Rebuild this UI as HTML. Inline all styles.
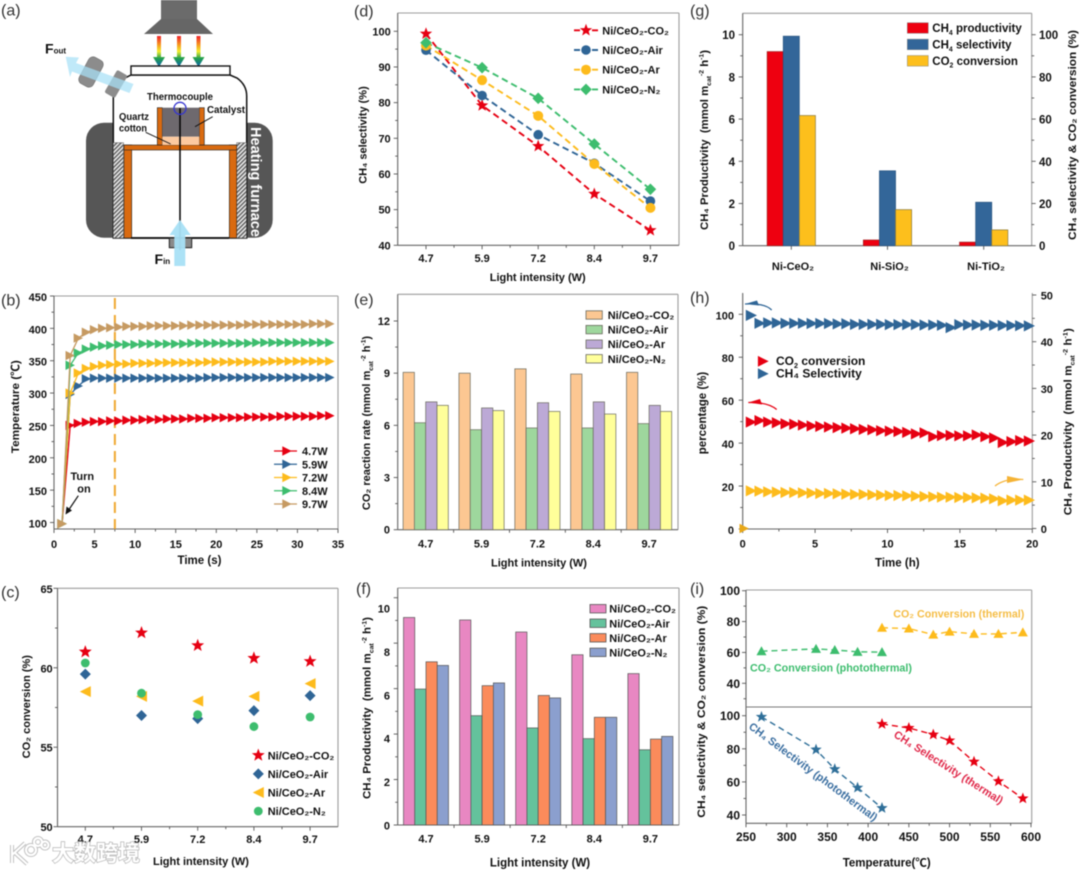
<!DOCTYPE html>
<html lang="en">
<head>
<meta charset="utf-8">
<title>Photothermal CO2 methanation figure</title>
<style>
html,body{margin:0;padding:0;background:#fff;}
svg{display:block;filter:blur(0.4px);}
text{font-family:"Liberation Sans","Noto Sans CJK SC",sans-serif;white-space:pre;}
</style>
</head>
<body>
<svg id="figure" xmlns="http://www.w3.org/2000/svg" width="1080" height="871" viewBox="0 0 1080 871">
<defs>
<pattern id="hatch" width="3" height="3" patternUnits="userSpaceOnUse" patternTransform="rotate(45)">
<rect width="3" height="3" fill="#e8e8e8"/><rect width="1.3" height="3" fill="#555"/>
</pattern>
<linearGradient id="rainbow" x1="0" y1="36" x2="0" y2="67" gradientUnits="userSpaceOnUse">
<stop offset="0" stop-color="#f0202a"/><stop offset=".3" stop-color="#f6a020"/><stop offset=".5" stop-color="#f2ee30"/><stop offset=".72" stop-color="#20a050"/><stop offset="1" stop-color="#1060b0"/>
</linearGradient>
</defs>
<rect width="1080" height="871" fill="#fff"/>

<g>
<rect x="161" y="0" width="36" height="19" fill="#6b6b6b"/>
<polygon points="161,19 197,19 213,34 144,34" fill="#666"/>
<g fill="url(#rainbow)">
<polygon points="157,36 161,36 161,57 165,57 159,67 153,57 157,57"/>
<polygon points="177,36 181,36 181,57 185,57 179,67 173,57 177,57"/>
<polygon points="196.500,36 200.500,36 200.500,57 204.500,57 198.500,67 192.500,57 196.500,57"/>
</g>
<rect x="86" y="122.700" width="186.700" height="115" rx="18" fill="#565656"/>
<path d="M113.300 238V96Q113.300 85 125 78L131 75H230L237 78Q246.700 85 246.700 96V238Z" fill="#fff" stroke="#111" stroke-width="1.5"/>
<rect x="131" y="66" width="99" height="9" fill="#fff" stroke="#111" stroke-width="1.4"/>
<rect x="113.300" y="142.700" width="10.200" height="95.300" fill="url(#hatch)" stroke="#555" stroke-width=".5"/>
<rect x="236.700" y="142.700" width="9.800" height="95.300" fill="url(#hatch)" stroke="#555" stroke-width=".5"/>
<g fill="#d96a10" stroke="#222" stroke-width=".6">
<rect x="124" y="145" width="7.700" height="93"/>
<rect x="229.300" y="145" width="7.400" height="93"/>
<rect x="124" y="145" width="112.700" height="5"/>
<rect x="157.300" y="107.700" width="5" height="37.300"/>
<rect x="199.300" y="107.700" width="5" height="37.300"/>
</g>
<rect x="162.300" y="107.700" width="37" height="29" fill="#6e696e"/>
<rect x="162.300" y="136.700" width="37" height="8.300" fill="#fcc9a0"/>
<line x1="131" y1="238" x2="229" y2="238" stroke="#111" stroke-width="1.8"/>
<rect x="169.300" y="238" width="22.400" height="9.700" fill="#8a8a8a" stroke="#222" stroke-width="1"/>
<line x1="180" y1="108" x2="180" y2="250" stroke="#000" stroke-width="1.5"/>
<circle cx="180" cy="108.300" r="6" fill="none" stroke="#3535d0" stroke-width="1.3"/>
<polygon points="174.300,266 185.300,266 185.300,235 190.700,235 180,220 169.500,235 174.300,235" fill="#a8e0f6" fill-opacity=".95"/>
<rect x="-13" y="-6" width="26" height="12" rx="2" transform="translate(116 84) rotate(-60)" fill="#8c8c8c"/>
<rect x="-8" y="-15" width="16" height="30" rx="5" transform="translate(91 72) rotate(28)" fill="#8c8c8c" stroke="#666" stroke-width=".5"/>
<polygon points="65.700,56.700 79,57.500 76,63 133.500,84 129.500,93 72,71.500 70,77" fill="#a8e0f6" fill-opacity=".72"/>
<line x1="212.700" y1="116.700" x2="195" y2="126.700" stroke="#111" stroke-width=".9"/>
<line x1="145.700" y1="132.300" x2="170.700" y2="144" stroke="#111" stroke-width=".9"/>
<g fill="#111" font-size="10.300" font-weight="bold">
<text x="147" y="100" textLength="66" lengthAdjust="spacingAndGlyphs">Thermocouple</text>
<text x="207" y="113" textLength="38" lengthAdjust="spacingAndGlyphs">Catalyst</text>
<text x="119" y="120" textLength="30" lengthAdjust="spacingAndGlyphs">Quartz</text>
<text x="119" y="131.700" textLength="28" lengthAdjust="spacingAndGlyphs">cotton</text>
</g>
<text x="0" y="0" transform="translate(251 127) rotate(90)" fill="#fff" font-size="15" font-weight="bold" textLength="110" lengthAdjust="spacingAndGlyphs">Heating furnace</text>
<text x="45" y="53.500" fill="#111" font-size="14" font-weight="bold">F<tspan font-size="8" dy="0">out</tspan></text>
<text x="154.500" y="264" fill="#111" font-size="14" font-weight="bold">F<tspan font-size="8">in</tspan></text>
</g>

<g id="charts"></g>

<g>
<g fill="none" stroke="#bdbdbd" stroke-width="4">
<path d="M12 845V863M12 855L25 843M15 853L27 864"/>
<circle cx="31" cy="850" r="5"/><circle cx="38" cy="842" r="4"/><circle cx="45" cy="845" r="3.500"/>
</g>
<g fill="none" stroke="#fff" stroke-width="2.200">
<path d="M12 845V863M12 855L25 843M15 853L27 864"/>
<circle cx="31" cy="850" r="5"/><circle cx="38" cy="842" r="4"/><circle cx="45" cy="845" r="3.500"/>
</g>
<text x="52" y="861" font-size="22" font-weight="bold" fill="#fff" stroke="#b5b5b5" stroke-width="1.400" paint-order="stroke" style="font-family:'Noto Sans CJK SC',sans-serif">大数跨境</text>
</g>
</svg>

<script>
/* Panel (b) */
const timeSeconds = [1,2,3,4,5,6,7,8,9,10,11,12,13,14,15,16,17,18,19,20,21,22,23,24,25,26,27,28,29,30,31,32,33,34];
const temp47 = [98,250,253,255,256,256,257,257,258,258,259,259,259,260,260,260,261,261,261,262,262,262,262,263,263,263,263,264,264,264,264,264,265,265];
const temp59 = [98,298,311,322,323,323,323,323,323,323,323,323,323,323,323,323,323,323,324,324,324,324,324,324,324,324,324,324,324,324,324,324,324,324];
const temp72 = [98,300,331,338,341,343,344,345,345,346,346,346,347,347,347,347,347,347,348,348,348,348,348,348,348,348,349,349,349,349,349,349,349,349];
const temp84 = [98,343,362,368,371,373,374,375,375,375,376,376,376,376,376,376,377,377,377,377,377,377,377,377,378,378,378,378,378,378,378,378,378,378];
const temp97 = [98,358,385,394,398,400,401,402,403,403,403,404,404,404,404,404,405,405,405,405,405,405,405,406,406,406,406,406,406,406,406,407,407,407];
const powerLabels = ['4.7W','5.9W','7.2W','8.4W','9.7W'];
const steadyTime = [7.5];
/* Shared categories */
const intensities = ['4.7','5.9','7.2','8.4','9.7'];
const gasLabels = ['Ni/CeO₂-CO₂','Ni/CeO₂-Air','Ni/CeO₂-Ar','Ni/CeO₂-N₂'];
/* Panel (c) */
const co2ConvCO2 = [61.0,62.2,61.4,60.6,60.4];
const co2ConvAir = [59.6,57.0,56.8,57.3,58.25];
const co2ConvAr = [58.5,58.2,57.9,58.2,59.0];
const co2ConvN2 = [60.3,58.4,57.05,56.3,56.9];
/* Panel (d) */
const ch4SelCO2 = [99.3,79.2,67.8,54.4,44.2];
const ch4SelAir = [94.7,82,71,63,52.4];
const ch4SelAr = [96,86.3,76.3,62.8,50.5];
const ch4SelN2 = [96.8,89.8,81.2,68.4,55.7];
/* Panel (e) */
const co2RateCO2 = [9.05,9.0,9.25,8.95,9.05];
const co2RateAir = [6.15,5.75,5.85,5.85,6.1];
const co2RateAr = [7.35,7.0,7.3,7.35,7.15];
const co2RateN2 = [7.15,6.85,6.8,6.65,6.8];
/* Panel (f) */
const ch4ProdCO2 = [9.13,9.02,8.49,7.49,6.66];
const ch4ProdAir = [5.98,4.81,4.27,3.8,3.31];
const ch4ProdAr = [7.18,6.13,5.7,4.74,3.78];
const ch4ProdN2 = [7.02,6.25,5.59,4.74,3.9];
/* Panel (g) */
const supports = ['Ni-CeO₂','Ni-SiO₂','Ni-TiO₂'];
const supportProductivity = [9.2,0.27,0.17];
const supportSelectivity = [99.3,35.5,20.6];
const supportConversion = [61.7,17.1,7.5];
/* Panel (h) */
const timeHours = [0.6,1.2,1.8,2.4,3.0,3.6,4.2,4.8,5.4,6.0,6.6,7.2,7.8,8.4,9.0,9.6,10.2,10.8,11.4,12.0,12.6,13.2,13.8,14.4,15.0,15.6,16.2,16.8,17.4,18.0,18.6,19.2,19.8];
const stabilitySelectivity = [99.5,95.8,96,96,95.8,95.8,95.8,95.7,95.7,95.7,95.5,95.6,95.3,95.3,95.3,95.3,95.2,95.2,95.2,95.2,95.0,95.0,94.9,93.8,95.2,95.0,95,94.9,94.9,94.8,94.8,94.7,94.6];
const stabilityConversion = [49.8,50.5,49.8,49.5,49.0,48.8,48.4,48.0,47.8,47.5,47.2,47.0,46.7,46.4,46.2,45.8,45.6,45.4,45.0,44.3,44.8,43.0,43.5,43.6,43.4,43.4,43.8,43.0,42.4,40.3,40.7,41.2,41.0];
const stabilityProductivity = [8.07,8.0,7.86,7.79,7.71,7.71,7.64,7.57,7.5,7.5,7.43,7.36,7.29,7.29,7.21,7.14,7.07,7.07,7.0,6.93,6.86,6.79,6.71,6.71,6.64,6.64,6.57,6.5,6.36,5.93,6.07,6.07,6.07];
const startTime = [0];
const startValue = [0];
/* Panel (i) */
const photoTemp = [269,336,359,387,417];
const thermalTemp = [417,450,480,500,530,560,590];
const photoConversion = [60.8,62.3,61.6,60.4,60.2];
const thermalConversion = [76,75.5,71.5,73.5,72,72,73];
const photoSelectivity = [99.3,79.5,67.7,56.5,44.2];
const thermalSelectivity = [95,92.6,88.6,85,72.2,60.4,50];

const RED='#e60012', BLUE='#2f6596', YEL='#fdbb1c', GRN='#3dbd6e', TAN='#c69a62';
const NS='http://www.w3.org/2000/svg';
const root=document.getElementById('charts');
function mk(parent,tag,attrs,name){
  const e=document.createElementNS(NS,tag);
  for(const k in attrs)e.setAttribute(k,attrs[k]);
  
  
  parent.appendChild(e);
  return e;
}
function linear(d0,d1,r0,r1){return v=>r0+(v-d0)*(r1-r0)/(d1-d0);}
function txt(parent,x,y,str,o,name){
  o=o||{};
  const a={x:x,y:y,'font-size':o.size||11,'font-weight':o.weight||'bold',fill:o.fill||'#111','text-anchor':o.anchor||'start'};
  if(o.rot!==undefined)a.transform='rotate('+o.rot+' '+x+' '+y+')';
  if(o.length){a.textLength=o.length;a.lengthAdjust='spacingAndGlyphs';}
  const t=mk(parent,'text',a,name);
  const parts=str.split(/([_^]\{[^}]*\})/);
  let cur=0;const fs=+(o.size||11);
  parts.forEach(p=>{
    if(!p)return;
    const ts=document.createElementNS(NS,'tspan');
    let target=0;
    if(/^[_^]\{/.test(p)){
      target=p[0]==='_'?fs*0.25:-fs*0.4;
      ts.setAttribute('font-size',fs*0.6);
      p=p.slice(2,-1);
    }
    if(target!==cur)ts.setAttribute('dy',target-cur);
    cur=target;
    ts.textContent=p;
    t.appendChild(ts);
  });
  return t;
}
function marker(p,type,x,y,s,color,name){
  if(type==='star'){
    let pts=[];
    for(let i=0;i<10;i++){const r=i%2?s*0.42:s;const a=-Math.PI/2+i*Math.PI/5;pts.push((x+r*Math.cos(a)).toFixed(2)+','+(y+r*Math.sin(a)).toFixed(2));}
    return mk(p,'polygon',{points:pts.join(' '),fill:color},name);
  }
  if(type==='circle')return mk(p,'circle',{cx:x,cy:y,r:s,fill:color},name);
  let pts;
  if(type==='diamond')pts=[[x,y-s],[x+s,y],[x,y+s],[x-s,y]];
  if(type==='right')pts=[[x-s,y-s],[x+s,y],[x-s,y+s]];
  if(type==='left')pts=[[x+s,y-s],[x-s,y],[x+s,y+s]];
  if(type==='up')pts=[[x,y-s],[x+s,y+s*0.8],[x-s,y+s*0.8]];
  return mk(p,'polygon',{points:pts.map(q=>q.join(',')).join(' '),fill:color},name);
}
function frame(g,b,sides){
  const col={l:'#666',b:'#666',t:'#9c9c9c',r:'#9c9c9c'};
  const seg={l:[b.l,b.t,b.l,b.b],r:[b.r,b.t,b.r,b.b],t:[b.l,b.t,b.r,b.t],b:[b.l,b.b,b.r,b.b]};
  const names={l:'left-axis-line',r:'right-axis-line',t:'top-axis-line',b:'bottom-axis-line'};
  sides.split('').forEach(s=>{
    const v=seg[s];
    mk(g,'line',{x1:v[0],y1:v[1],x2:v[2],y2:v[3],stroke:col[s],'stroke-width':1.1},names[s]);
  });
}
function yTicks(g,scale,values,x,dir,len,name){
  values.forEach(v=>{
    const y=scale(v);
    mk(g,'line',{x1:x,y1:y,x2:x+dir*len,y2:y,stroke:'#555','stroke-width':.9},name);
  });
}
function xTicksAt(g,positions,y,len,name){
  positions.forEach(px=>{
    mk(g,'line',{x1:px,y1:y,x2:px,y2:y+len,stroke:'#555','stroke-width':.9},name);
  });
}
function range(a,b,s){const r=[];for(let v=a;v<=b+1e-9;v+=s)r.push(+v.toFixed(4));return r;}
function yLabels(g,scale,values,x,dy,o,name){
  values.forEach(v=>txt(g,x,scale(v)+dy,String(v),Object.assign({anchor:o&&o.anchor||'end'},o||{}),name));
}
function poly(g,xs,ys,xf,yf,color,w,dash,name){
  const pts=xs.map((x,i)=>xf(x).toFixed(2)+','+yf(ys[i]).toFixed(2)).join(' ');
  const a={points:pts,fill:'none',stroke:color,'stroke-width':w};
  if(dash)a['stroke-dasharray']=dash;
  return mk(g,'polyline',a,name);
}
function panelLabel(x,y,s){
  txt(root,x,y,s,{size:16,weight:'normal',fill:'#333'},'panel-label');
}
panelLabel(1,15.7,'(a)');panelLabel(1,305.7,'(b)');panelLabel(1,597.7,'(c)');
panelLabel(354,16.7,'(d)');panelLabel(354,305,'(e)');panelLabel(356,594,'(f)');
panelLabel(690,16,'(g)');panelLabel(690,303,'(h)');panelLabel(690,594,'(i)');

/* ---------- (b) ---------- */
(function(){
  const g=mk(root,'g',{},'temperature-chart');
  const b={l:54,r:338,t:296,b:529};
  const x=linear(0,35,54,338), y=linear(100,450,522.5,296);
  frame(g,b,'trbl');
  xTicksAt(g,range(0,35,5).map(x),b.b,4,'x-tick');
  xTicksAt(g,range(2.5,32.5,5).map(x),b.b,2.5,'x-minor-tick');
  yTicks(g,y,range(100,450,50),b.l,-1,4,'y-tick');
  yTicks(g,y,range(125,425,50),b.l,-1,2.5,'y-minor-tick');
  range(0,35,5).forEach(v=>txt(g,x(v),548,String(v),{anchor:'middle'},'x-tick-label'));
  yLabels(g,y,range(100,450,50),47,5,{}, 'y-tick-label');
  txt(g,199.5,564,'Time (s)',{anchor:'middle',size:11.5},'x-axis-title');
  txt(g,19,406.7,'Temperature (℃)',{anchor:'middle',size:11,rot:-90,length:93},'y-axis-title');
  steadyTime.forEach(t=>mk(g,'line',{x1:x(t),y1:b.t+2,x2:x(t),y2:b.b,stroke:'#f0a830','stroke-width':2,'stroke-dasharray':'11 6'},'steady-state-line'));
  const series=[[temp47,RED,'series-4-7w'],[temp59,BLUE,'series-5-9w'],[temp72,YEL,'series-7-2w'],[temp84,GRN,'series-8-4w'],[temp97,TAN,'series-9-7w']];
  series.forEach(s=>{
    const sg=mk(g,'g',{},s[2]);
    poly(sg,timeSeconds,s[0],x,y,s[1],1.3,null,'series-line');
    s[0].forEach((v,i)=>marker(sg,'right',x(timeSeconds[i]),y(v),4.7,s[1],'data-point'));
  });
  const legend=mk(g,'g',{},'legend');
  const colors=[RED,BLUE,YEL,GRN,TAN];
  powerLabels.forEach((lab,i)=>{
    const yy=451+i*13.25;
    mk(legend,'line',{x1:274,y1:yy,x2:297,y2:yy,stroke:colors[i],'stroke-width':1.2},'legend-line');
    marker(legend,'right',287,yy,4.7,colors[i],'legend-marker');
    txt(legend,302,yy+4,lab,{},'legend-label');
  });
  txt(g,82.3,480,'Turn',{anchor:'middle'},'turn-on-label');
  txt(g,84,492.700,'on',{anchor:'middle'},'turn-on-label');
  mk(g,'line',{x1:78.3,y1:495.7,x2:69,y2:509.5,stroke:'#111','stroke-width':1.2},'turn-on-arrow-shaft');
  mk(g,'polygon',{points:'65.5,514.5 66.5,506.5 72,510.5',fill:'#111'},'turn-on-arrow-head');
})();

/* ---------- (c) ---------- */
(function(){
  const g=mk(root,'g',{},'co2-conversion-chart');
  const b={l:57.5,r:338,t:588.3,b:826.7};
  const y=linear(50,65,826.7,588.3);
  const x=i=>85.3+i*56.2;
  frame(g,b,'trbl');
  xTicksAt(g,intensities.map((c,i)=>x(i)),b.b,4,'x-tick');
  xTicksAt(g,[0,1,2,3].map(i=>x(i+.5)),b.b,2.5,'x-minor-tick');
  yTicks(g,y,range(50,65,5),b.l,-1,4,'y-tick');
  yTicks(g,y,range(52.5,62.5,5),b.l,-1,2.5,'y-minor-tick');
  intensities.forEach((c,i)=>txt(g,x(i),843,c,{anchor:'middle'},'x-tick-label'));
  yLabels(g,y,range(50,65,5),52.7,4.5,{}, 'y-tick-label');
  txt(g,201,865,'Light intensity (W)',{anchor:'middle',size:11},'x-axis-title');
  txt(g,30,706.7,'CO₂ conversion (%)',{anchor:'middle',rot:-90},'y-axis-title');
  const series=[[co2ConvAr,'left',YEL,5.5],[co2ConvAir,'diamond',BLUE,5.5],[co2ConvN2,'circle',GRN,4.4],[co2ConvCO2,'star',RED,6.8]];
  series.forEach(s=>s[0].forEach((v,i)=>marker(g,s[1],x(i),y(v),s[3],s[2],'data-point')));
  const lg=mk(g,'g',{},'legend');
  const order=[['star',RED,6.8],['diamond',BLUE,5.5],['left',YEL,5.5],['circle',GRN,4.4]];
  gasLabels.forEach((lab,i)=>{
    const yy=755.3+i*18.6;
    marker(lg,order[i][0],258.3,yy,order[i][2],order[i][1],'legend-marker');
    txt(lg,267.7,yy+4,lab,{},'legend-label');
  });
})();

/* ---------- (d) ---------- */
(function(){
  const g=mk(root,'g',{},'ch4-selectivity-chart');
  const b={l:397.7,r:679,t:13,b:245.3};
  const y=linear(40,100,245.3,31.3);
  const x=i=>426+i*56.1;
  frame(g,b,'trbl');
  xTicksAt(g,intensities.map((c,i)=>x(i)),b.b,4,'x-tick');
  xTicksAt(g,[0,1,2,3].map(i=>x(i+.5)),b.b,2.5,'x-minor-tick');
  yTicks(g,y,range(40,100,10),b.l,-1,4,'y-tick');
  yTicks(g,y,range(45,95,10),b.l,-1,2.5,'y-minor-tick');
  intensities.forEach((c,i)=>txt(g,x(i),262,c,{anchor:'middle'},'x-tick-label'));
  yLabels(g,y,range(40,100,10),390.7,4,{}, 'y-tick-label');
  txt(g,537.7,281,'Light intensity (W)',{anchor:'middle'},'x-axis-title');
  txt(g,366.7,135,'CH₄ selectivity (%)',{anchor:'middle',rot:-90},'y-axis-title');
  const idx=intensities.map((c,i)=>i);
  const series=[[ch4SelCO2,RED,'star',6.5],[ch4SelAir,BLUE,'circle',4.8],[ch4SelAr,YEL,'circle',5],[ch4SelN2,GRN,'diamond',5.8]];
  series.forEach(s=>{
    const sg=mk(g,'g',{},'series-'+s[2]);
    poly(sg,idx,s[0],x,y,s[1],1.9,'6.5 4','series-line');
  });
  series.forEach(s=>{
    s[0].forEach((v,i)=>marker(g,s[2],x(i),y(v),s[3],s[1],'data-point'));
  });
  const lg=mk(g,'g',{},'legend');
  gasLabels.forEach((lab,i)=>{
    const yy=30.3+i*19.7,s=series[i];
    mk(lg,'line',{x1:574,y1:yy,x2:598.3,y2:yy,stroke:s[1],'stroke-width':1.9,'stroke-dasharray':'6 3'},'legend-line');
    marker(lg,s[2],586,yy,s[3],s[1],'legend-marker');
    txt(lg,602.3,yy+4,lab,{},'legend-label');
  });
})();

/* ---------- (e) ---------- */
(function(){
  const g=mk(root,'g',{},'co2-reaction-rate-chart');
  const b={l:397.7,r:678,t:294.3,b:529.7};
  const y=linear(0,12,529.7,321);
  const cx=i=>425.7+i*55.85;
  frame(g,b,'trbl');
  yTicks(g,y,range(0,12,3),b.l,-1,4,'y-tick');
  yTicks(g,y,range(1.5,10.5,3),b.l,-1,2.5,'y-minor-tick');
  xTicksAt(g,[0,1,2,3].map(i=>cx(i+.5)),b.b,3,'x-tick');
  const colors=['#fcc792','#9ed79d','#bca9d6','#ffff9a'];
  const series=[co2RateCO2,co2RateAir,co2RateAr,co2RateN2];
  series.forEach((vals,k)=>{
    const sg=mk(g,'g',{},'series-'+gasLabels[k].replace(/[^A-Za-z0-9]+/g,'-').toLowerCase());
    vals.forEach((v,i)=>{
      const w=11.3;
      mk(sg,'rect',{x:cx(i)-2*w+k*w,y:y(v),width:w,height:y(0)-y(v),fill:colors[k],stroke:'#6a6a5e','stroke-width':.7},'bar');
    });
  });
  intensities.forEach((c,i)=>txt(g,cx(i),547.7,c,{anchor:'middle'},'x-tick-label'));
  yLabels(g,y,range(0,12,3),390,4,{}, 'y-tick-label');
  txt(g,539,566.7,'Light intensity (W)',{anchor:'middle'},'x-axis-title');
  txt(g,370,423,'CO₂ reaction rate (mmol m_{cat}^{-2} h^{-1})',{anchor:'middle',rot:-90},'y-axis-title');
  const lg=mk(g,'g',{},'legend');
  gasLabels.forEach((lab,i)=>{
    const yy=315+i*14.6;
    mk(lg,'rect',{x:586,y:yy-4.2,width:16.3,height:8.4,fill:colors[i],stroke:'#6a6a5e','stroke-width':.8},'legend-swatch');
    txt(lg,607.7,yy+4,lab,{},'legend-label');
  });
})();

/* ---------- (f) ---------- */
(function(){
  const g=mk(root,'g',{},'ch4-productivity-chart');
  const b={l:397.7,r:679,t:588,b:825};
  const y=linear(0,10,825,597.7);
  const labelY=linear(0,10,825.7,608.3);
  const cx=i=>426+i*56.1;
  frame(g,b,'trbl');
  yTicks(g,y,range(0,10,2),b.l,-1,4,'y-tick');
  yTicks(g,y,range(1,9,2),b.l,-1,2.5,'y-minor-tick');
  xTicksAt(g,[0,1,2,3].map(i=>cx(i+.5)),b.b,3,'x-tick');
  const colors=['#e887c2','#64c29c','#fb8b5b','#8b9fce'];
  const series=[ch4ProdCO2,ch4ProdAir,ch4ProdAr,ch4ProdN2];
  series.forEach((vals,k)=>{
    const sg=mk(g,'g',{},'series-'+gasLabels[k].replace(/[^A-Za-z0-9]+/g,'-').toLowerCase());
    vals.forEach((v,i)=>{
      const w=11.25;
      mk(sg,'rect',{x:cx(i)-2*w+k*w,y:y(v),width:w,height:y(0)-y(v),fill:colors[k],stroke:'#555','stroke-width':.7},'bar');
    });
  });
  intensities.forEach((c,i)=>txt(g,cx(i),842.3,c,{anchor:'middle'},'x-tick-label'));
  yLabels(g,labelY,range(0,10,2),390,4,{}, 'y-tick-label');
  txt(g,540,866.7,'Light intensity (W)',{anchor:'middle',size:11.5},'x-axis-title');
  txt(g,370.7,708,'CH₄ Productivity  (mmol m_{cat}^{-2} h^{-1})',{anchor:'middle',rot:-90,length:182},'y-axis-title');
  const lg=mk(g,'g',{},'legend');
  gasLabels.forEach((lab,i)=>{
    const yy=608.7+i*14.55;
    mk(lg,'rect',{x:590,y:yy-4.2,width:16,height:8.4,fill:colors[i],stroke:'#555','stroke-width':.8},'legend-swatch');
    txt(lg,609.3,yy+4,lab,{},'legend-label');
  });
})();

/* ---------- (g) ---------- */
(function(){
  const g=mk(root,'g',{},'support-comparison-chart');
  const b={l:742.7,r:1031.7,t:13.3,b:245.7};
  const yL=linear(0,10,245.7,34.7), yR=linear(0,100,245.7,34.7);
  const cx=i=>791.3+i*96.2;
  frame(g,b,'trbl');
  yTicks(g,yL,range(0,10,2),b.l,-1,4,'left-y-tick');
  yTicks(g,yL,range(1,9,2),b.l,-1,2.5,'left-y-minor-tick');
  yTicks(g,yR,range(0,100,20),b.r,1,4,'right-y-tick');
  yTicks(g,yR,range(10,90,20),b.r,1,2.5,'right-y-minor-tick');
  xTicksAt(g,supports.map((c,i)=>cx(i)),b.b,4,'x-tick');
  const w=16.1;
  const series=[[supportProductivity,yL,'#ee0010','#a02020','bars-ch4-productivity'],[supportSelectivity,yR,'#336699','#2a5580','bars-ch4-selectivity'],[supportConversion,yR,'#fdbf1c','#8a7a40','bars-co2-conversion']];
  series.forEach((s,k)=>{
    const sg=mk(g,'g',{},s[4]);
    s[0].forEach((v,i)=>{
      mk(sg,'rect',{x:cx(i)-1.5*w+k*w,y:s[1](v),width:w,height:s[1](0)-s[1](v),fill:s[2],stroke:s[3],'stroke-width':.7},'bar');
    });
  });
  supports.forEach((c,i)=>txt(g,793+i*96.5,270,c,{anchor:'middle'},'x-tick-label'));
  yLabels(g,yL,range(0,10,2),735,4.5,{size:11.5}, 'left-y-tick-label');
  yLabels(g,yR,range(0,100,20),1039,4.5,{anchor:'start',size:11.5}, 'right-y-tick-label');
  txt(g,708,140,'CH₄ Productivity  (mmol m_{cat}^{-2} h^{-1})',{anchor:'middle',rot:-90,length:180},'left-y-axis-title');
  txt(g,1076,135,'CH₄ selectivity & CO₂ conversion (%)',{anchor:'middle',rot:-90,length:210},'right-y-axis-title');
  const lg=mk(g,'g',{},'legend');
  const labs=['CH_{4} productivity','CH_{4} selectivity','CO_{2} conversion'];
  const cols=['#ee0010','#336699','#fdbf1c'];
  labs.forEach((lab,i)=>{
    const yy=28+i*16.4;
    mk(lg,'rect',{x:907.3,y:yy-5.3,width:21,height:10.6,fill:cols[i],stroke:'#888','stroke-width':.5},'legend-swatch');
    txt(lg,932.3,yy+4,lab,{size:11.5},'legend-label');
  });
})();

/* ---------- (h) ---------- */
(function(){
  const g=mk(root,'g',{},'stability-chart');
  const b={l:742.7,r:1032.3,t:293,b:529};
  const x=linear(0,20,742.7,1032.3), yL=linear(0,100,529,314.3), yR=linear(0,50,528.5,295);
  frame(g,b,'rbl');
  yTicks(g,yL,range(0,100,20),b.l,-1,4,'left-y-tick');
  yTicks(g,yL,range(10,90,20),b.l,-1,2.5,'left-y-minor-tick');
  yTicks(g,yR,range(0,50,10),b.r,1,4,'right-y-tick');
  yTicks(g,yR,range(5,45,10),b.r,1,2.5,'right-y-minor-tick');
  xTicksAt(g,range(0,20,5).map(x),b.b,4,'x-tick');
  xTicksAt(g,range(2.5,17.5,5).map(x),b.b,2.5,'x-minor-tick');
  range(0,20,5).forEach(v=>txt(g,x(v),547.7,String(v),{anchor:'middle'},'x-tick-label'));
  yLabels(g,yL,range(0,100,20),734,5,{}, 'left-y-tick-label');
  yLabels(g,yR,range(0,50,10),1040.7,4.5,{anchor:'start'}, 'right-y-tick-label');
  txt(g,897.3,566.7,'Time (h)',{anchor:'middle',size:11.5},'x-axis-title');
  txt(g,706,413,'percentage (%)',{anchor:'middle',rot:-90,size:11.5},'left-y-axis-title');
  txt(g,1071.7,421.7,'CH₄ Productivity  (mmol m_{cat}^{-2} h^{-1})',{anchor:'middle',rot:-90,length:187},'right-y-axis-title');
  const s1=mk(g,'g',{},'series-ch4-selectivity');
  stabilitySelectivity.forEach((v,i)=>marker(s1,'right',x(timeHours[i]),yL(v),5.6,BLUE,'data-point'));
  const s2=mk(g,'g',{},'series-co2-conversion');
  stabilityConversion.forEach((v,i)=>marker(s2,'right',x(timeHours[i]),yL(v),5.6,RED,'data-point'));
  const s3=mk(g,'g',{},'series-ch4-productivity');
  startValue.forEach((v,i)=>marker(s3,'right',x(startTime[i])+1.5,yR(v),4.7,'#e8a818','data-point'));
  stabilityProductivity.forEach((v,i)=>marker(s3,'right',x(timeHours[i]),yR(v),5.6,YEL,'data-point'));
  const lg=mk(g,'g',{},'legend');
  marker(lg,'right',763.3,361.3,5.4,RED,'legend-marker');
  marker(lg,'right',763.3,373.7,5.4,BLUE,'legend-marker');
  txt(lg,776,365,'CO_{2} conversion',{size:12},'legend-label');
  txt(lg,776,377.3,'CH₄ Selectivity',{size:12},'legend-label');
  const arrows=[
    ['M771.7 310Q765 303 745 304',BLUE,'757,300.500 745,304 759,305.500','selectivity-axis-arrow'],
    ['M776.7 409.500Q768 402 748.300 402.500',RED,'760,399 748.300,402.500 762,404.500','conversion-axis-arrow'],
    ['M995 486Q1005 478 1023.300 479.500','#f5b335','1007,476 1023.300,479.500 1007,483','productivity-axis-arrow']
  ];
  arrows.forEach(a=>{
    mk(g,'path',{d:a[0],fill:'none',stroke:a[1],'stroke-width':1.3},a[3]);
    mk(g,'polygon',{points:a[2],fill:a[1]},a[3]+'-head');
  });
})();

/* ---------- (i) ---------- */
(function(){
  const g=mk(root,'g',{},'temperature-comparison-chart');
  const b={l:746,r:1031.7,t:590,b:823.3};
  const x=linear(250,600,746,1031);
  const yT=linear(40,100,683.3,590.7), yB=linear(40,100,815,715.7);
  frame(g,b,'trbl');
  mk(g,'line',{x1:b.l,y1:707,x2:b.r,y2:707,stroke:'#777','stroke-width':1},'panel-divider');
  xTicksAt(g,range(250,600,50).map(x),b.b,4,'x-tick');
  xTicksAt(g,range(275,575,50).map(x),b.b,2.5,'x-minor-tick');
  yTicks(g,yT,range(40,100,20),b.l,-1,4,'upper-y-tick');
  yTicks(g,yB,range(40,100,20),b.l,-1,4,'lower-y-tick');
  yTicks(g,yT,[30,50,70,90],b.l,-1,2.5,'upper-y-minor-tick');
  yTicks(g,yB,[50,70,90],b.l,-1,2.5,'lower-y-minor-tick');
  range(250,600,50).forEach(v=>txt(g,x(v),841,String(v),{anchor:'middle',size:12},'x-tick-label'));
  yLabels(g,yT,range(40,100,20),740,4.5,{size:12}, 'upper-y-tick-label');
  yLabels(g,yB,range(40,100,20),740,4.5,{size:12}, 'lower-y-tick-label');
  txt(g,886.7,866.7,'Temperature(℃)',{anchor:'middle',size:11.5},'x-axis-title');
  txt(g,705,711.7,'CH₄ selectivity & CO₂ conversion (%)',{anchor:'middle',rot:-90,length:212},'y-axis-title');
  const series=[
    [photoTemp,photoConversion,yT,GRN,'up',5,'series-co2-photothermal'],
    [thermalTemp,thermalConversion,yT,YEL,'up',5,'series-co2-thermal'],
    [photoTemp,photoSelectivity,yB,'#2f6f99','star',6,'series-ch4-photothermal'],
    [thermalTemp,thermalSelectivity,yB,RED,'star',6,'series-ch4-thermal']
  ];
  series.forEach(s=>{
    const sg=mk(g,'g',{},s[6]);
    poly(sg,s[0],s[1],x,s[2],s[3],1.4,'6 4','series-line');
    s[1].forEach((v,i)=>marker(sg,s[4],x(s[0][i]),s[2](v),s[5],s[3],'data-point'));
  });
  txt(g,893.3,617.3,'CO₂ Conversion (thermal)',{fill:'#f5bd45',length:131},'co2-thermal-label');
  txt(g,750,671.7,'CO₂ Conversion (photothermal)',{fill:'#3dbd6e',length:162},'co2-photothermal-label');
  txt(g,748,728,'CH₄ Selectivity (photothermal)',{fill:'#3a6ea0',rot:36.6,length:157},'ch4-photothermal-label');
  txt(g,893,736.5,'CH₄ Selectivity (thermal)',{fill:'#e0294a',rot:32.4,length:127},'ch4-thermal-label');
})();
</script>
</body>
</html>
